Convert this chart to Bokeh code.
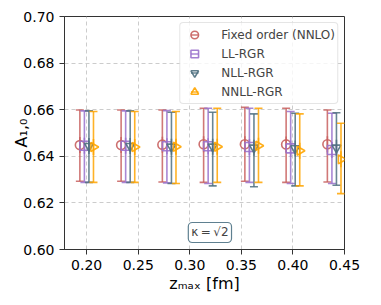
import math
from bokeh.plotting import figure
from bokeh.models import (FixedTicker, PrintfTickFormatter, Legend, LegendItem,
                          Label, ColumnDataSource, Range1d)
from bokeh.embed import file_html
from bokeh.resources import INLINE

# ---- data ----
z_max = [0.20, 0.24, 0.28, 0.32, 0.36, 0.40, 0.44]
offsets = [-0.0066, -0.0022, 0.0022, 0.0066]

labels = ["Fixed order (NNLO)", "LL-RGR", "NLL-RGR", "NNLL-RGR"]

fo_center = [0.6448, 0.6448, 0.6450, 0.6452, 0.6452, 0.6451, 0.6452]
fo_upper = [0.6599, 0.6599, 0.6599, 0.6606, 0.6610, 0.6606, 0.6599]
fo_lower = [0.6293, 0.6293, 0.6290, 0.6288, 0.6293, 0.6288, 0.6290]

ll_center = [0.6445, 0.6445, 0.6443, 0.6443, 0.6440, 0.6434, 0.6427]
ll_upper = [0.6595, 0.6595, 0.6596, 0.6606, 0.6606, 0.6592, 0.6585]
ll_lower = [0.6288, 0.6288, 0.6286, 0.6283, 0.6288, 0.6283, 0.6283]

nll_center = [0.6444, 0.6444, 0.6441, 0.6441, 0.6437, 0.6434, 0.6437]
nll_upper = [0.6595, 0.6595, 0.6589, 0.6589, 0.6582, 0.6585, 0.6587]
nll_lower = [0.6288, 0.6288, 0.6283, 0.6273, 0.6269, 0.6273, 0.6276]

nnll_center = [0.6440, 0.6440, 0.6441, 0.6441, 0.6445, 0.6424, 0.6387]
nnll_upper = [0.6592, 0.6592, 0.6592, 0.6606, 0.6606, 0.6582, 0.6542]
nnll_lower = [0.6288, 0.6288, 0.6283, 0.6288, 0.6288, 0.6273, 0.6240]

x_ticks = [0.20, 0.25, 0.30, 0.35, 0.40, 0.45]
y_ticks = [0.60, 0.62, 0.64, 0.66, 0.68, 0.70]

series = [
    (fo_center, fo_upper, fo_lower),
    (ll_center, ll_upper, ll_lower),
    (nll_center, nll_upper, nll_lower),
    (nnll_center, nnll_upper, nnll_lower),
]
colors = ["#c8605f", "#9a72cc", "#4f7080", "#ffa500"]
markers = ["circle", "square", "inverted_triangle", "triangle"]
angles = [0, 0, 0, -math.pi / 2]

p = figure(width=365, height=296, output_backend="svg", toolbar_location=None,
           x_range=Range1d(0.1785, 0.45), y_range=Range1d(0.60, 0.70),
           min_border_left=64, min_border_right=21, min_border_top=16,
           min_border_bottom=47)

font = "DejaVu Sans"
for ax in (p.xaxis[0], p.yaxis[0]):
    ax.major_label_text_font = font
    ax.major_label_text_font_size = "14px"
    ax.major_label_text_color = "black"
    ax.axis_label_text_font = font
    ax.axis_label_text_font_size = "16px"
    ax.axis_label_text_font_style = "normal"
    ax.axis_label_text_color = "black"
    ax.major_tick_in = 0
    ax.major_tick_out = 5
    ax.minor_tick_in = 0
    ax.minor_tick_out = 0
    ax.axis_line_color = "#333333"
    ax.major_tick_line_color = "#333333"

p.xaxis.ticker = FixedTicker(ticks=x_ticks)
p.yaxis.ticker = FixedTicker(ticks=y_ticks)
p.xaxis.formatter = PrintfTickFormatter(format="%.2f")
p.yaxis.formatter = PrintfTickFormatter(format="%.2f")
p.xaxis.axis_label = "zₘₐₓ [fm]"
p.yaxis.axis_label = "A₁,₀"
p.xaxis.axis_label_standoff = 1
p.yaxis.axis_label_standoff = -11

p.xgrid.grid_line_dash = "4 3"
p.ygrid.grid_line_dash = "4 3"
p.xgrid.grid_line_color = "#cccccc"
p.ygrid.grid_line_color = "#cccccc"
p.outline_line_color = "#333333"
p.outline_line_width = 1

items = []
for i, (c, up, lo) in enumerate(series):
    xs = [z + offsets[i] for z in z_max]
    src = ColumnDataSource(dict(x=xs, c=c, up=up, lo=lo))
    col = colors[i]
    p.segment(x0="x", y0="lo", x1="x", y1="up", source=src,
              line_color=col, line_width=1.6, line_alpha=0.85)
    p.scatter(x="x", y="up", source=src, marker="dash", size=8,
              line_color=col, line_width=1.6, line_alpha=0.85)
    p.scatter(x="x", y="lo", source=src, marker="dash", size=8,
              line_color=col, line_width=1.6, line_alpha=0.85)
    vr = p.scatter(x="x", y="c", source=src, marker="dash", size=16,
                   angle=math.pi / 2, line_color=col, line_width=1.6,
                   line_alpha=0.85)
    mr = p.scatter(x="x", y="c", source=src, marker=markers[i], size=9,
                   angle=angles[i], fill_color=None, line_color=col,
                   line_width=1.6, line_alpha=0.9)
    items.append(LegendItem(label=labels[i], renderers=[vr, mr]))

legend = Legend(items=items, location="top_right")
legend.label_text_font = font
legend.label_text_font_size = "12px"
legend.label_height = 19
legend.glyph_height = 19
legend.glyph_width = 24
legend.spacing = 0
legend.padding = 2
legend.margin = 6
legend.label_standoff = 15
legend.border_line_color = "#cccccc"
legend.border_radius = 4
legend.background_fill_alpha = 0.8
p.add_layout(legend, "center")

kappa = Label(x=0.3195, y=0.6073, text="κ\u2009=\u2009√2", text_align="center",
              text_baseline="middle", text_font=font, text_font_size="12px",
              background_fill_color="white", border_line_color="#5f8090",
              border_line_width=1.2, border_radius=4, padding=3)
p.add_layout(kappa)

open("out.html", "w").write(file_html(p, INLINE))
